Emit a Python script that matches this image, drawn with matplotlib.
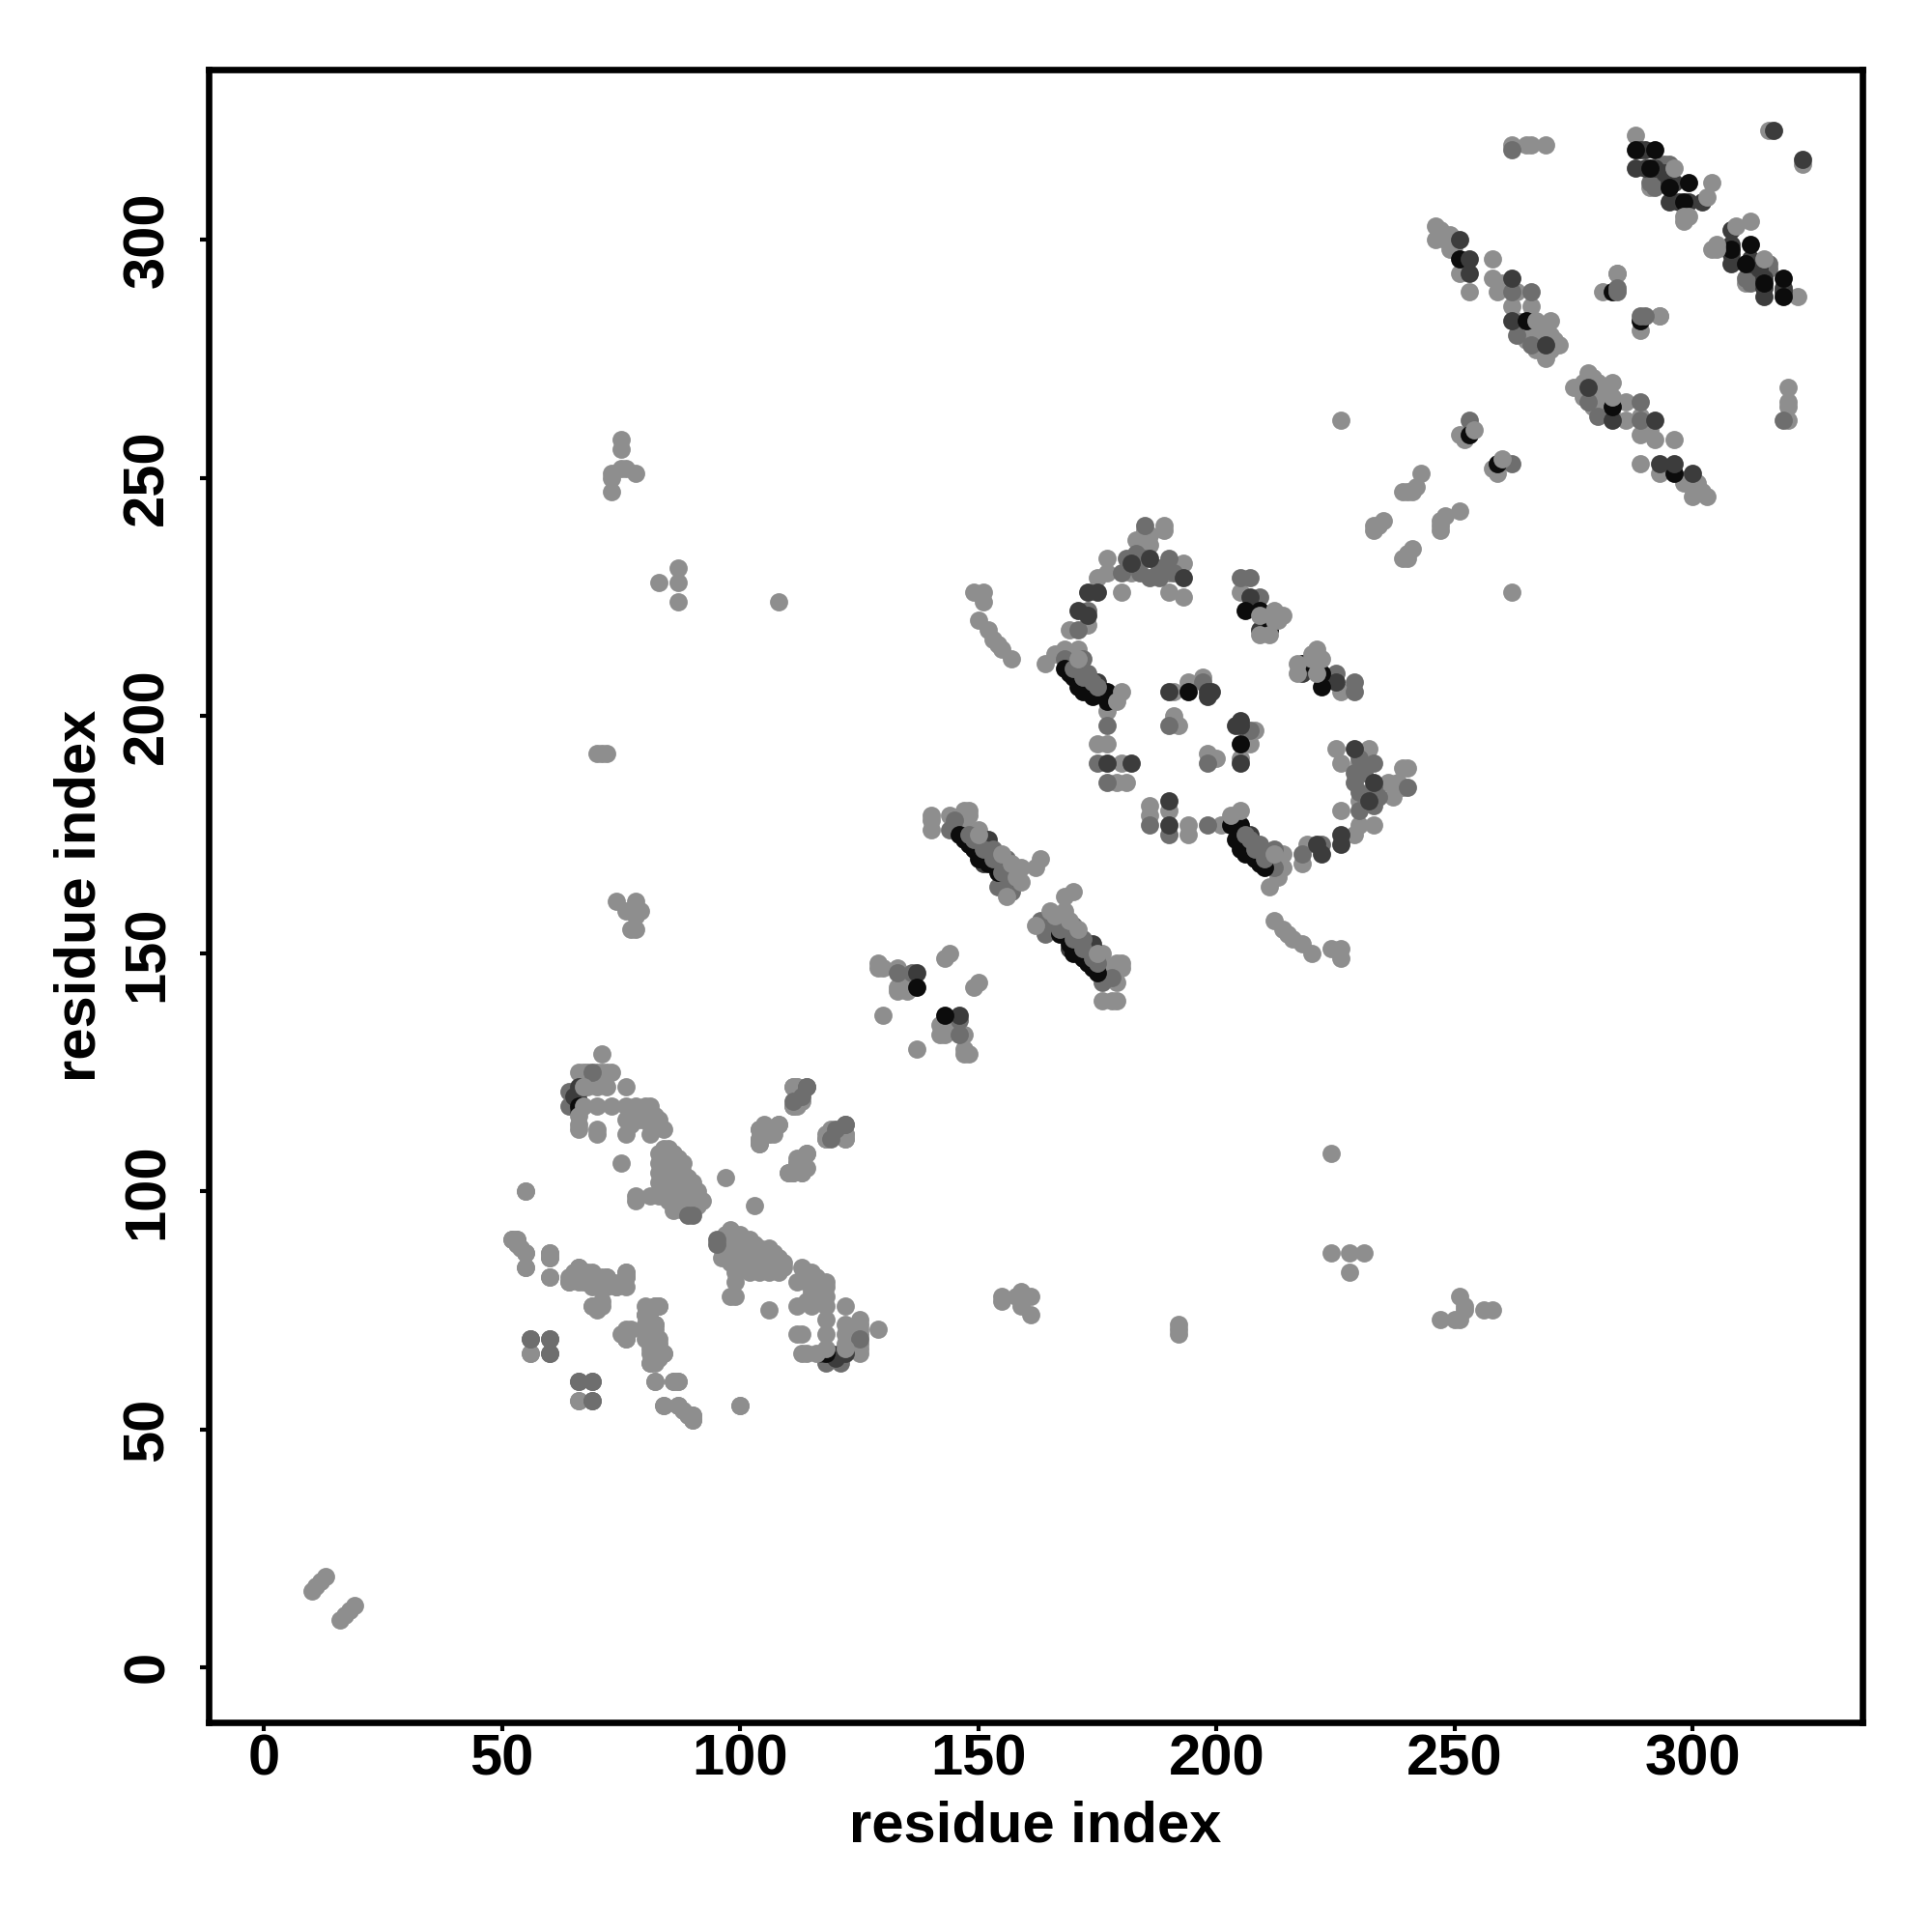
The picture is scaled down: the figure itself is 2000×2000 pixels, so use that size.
import matplotlib
matplotlib.use("Agg")
import matplotlib.pyplot as plt
import numpy as np

# contact map is symmetric, only residue pairs i < j are listed
light = [
    (10,16),(11,17),(12,18),(13,19),
    (71,129),(66,125),(67,125),(68,125),(70,125),(71,125),(72,125),(73,125),
    (68,122),(70,122),(72,122),(76,122),(65,121),(65,118),(70,118),
    (73,118),(76,118),(78,118),(80,118),(81,118),(66,114),(76,115),(81,114),(83,115),
    (66,113),(70,113),(70,112),(76,112),(81,112),(84,113),(78,116),(79,115),(77,114),(82,116),
    (75,106),(55,100),(84,109),(85,109),(86,108),(87,107),(88,106),(87,105),(88,104),(89,103),
    (90,102),(91,100),(92,98),(83,108),(83,106),(83,104),(83,102),(84,100),(85,104),(85,102),(86,100),
    (84,106),(86,104),(87,101),(88,99),(89,100),(85,98),(78,98),(78,99),(81,99),(83,99),(86,96),(88,96),
    (87,98),(90,97),(91,97),(97,103),
    (111,122),(112,122),(111,118),(112,118),(113,119),(104,110),(105,112),(108,114),(104,113),(106,112),
    (104,111),(107,112),(118,111),(119,112),(122,111),(122,112),(114,108),(113,107),(110,104),(111,104),
    (113,104),(112,105),(114,105),(112,106),
    (52,90),(53,90),(54,88),(55,87),(55,84),(60,87),(60,86),(60,82),(64,82),(64,81),(66,84),(66,82),
    (68,83),(69,83),(69,82),(70,81),(71,82),(71,80),(72,82),(74,80),(76,83),(76,82),(75,81),(70,76),
    (71,77),(69,76),(82,76),(83,76),(80,76),(80,74),(81,73),(82,72),(80,72),(76,71),(75,70),(76,69),
    (80,70),(80,69),(82,69),(82,68),(81,67),(81,66),(84,66),(81,64),(83,65),(56,66),(66,56),
    (82,60),(86,60),(87,60),(84,55),(87,55),(89,53),(90,52),(90,53),(100,55),
    (140,179),(140,178),(140,176),(148,180),(148,179),(147,180),(147,178),(150,176),(144,179),
    (129,148),(129,147),(130,147),(133,147),(133,143),(135,142),(133,142),(134,144),(130,137),(143,149),(144,150),
    (185,239),(189,240),(189,239),(183,237),(186,236),(186,238),(177,233),(182,230),(193,232),(190,230),
    (175,229),(177,230),(180,226),(190,226),(193,225),(169,218),(173,219),(171,214),(166,213),
    (164,211),(168,214),(170,213),(177,201),(175,194),(177,194),(180,190),(179,186),
    (181,186),(191,205),(194,207),(197,208),(191,200),(192,198),(205,226),
    (262,320),(265,320),(266,320),(269,320),(288,322),(291,311),(316,323),
    (246,303),(246,300),(248,301),(249,301),(247,302),(249,298),(250,299),(251,293),(253,289),(248,300),
    (258,296),(258,292),(259,289),(260,291),(262,286),(263,289),(266,286),(263,283),(270,283),
    (266,280),(270,280),(268,281),(272,278),(269,275),(270,277),(271,279),(265,279),(267,277),(268,279),(284,293),(281,289),(293,284),
    (233,240),(234,240),(235,241),(233,239),(239,247),(240,247),(242,248),(243,251),(241,247),
    (226,262),(251,259),(252,258),
    (75,258),(75,256),(73,251),(73,250),(73,247),(75,252),(78,251),(76,252),(83,228),(87,231),(87,228),
    (87,224),(108,224),(70,192),(71,192),(72,192),(74,161),(78,161),(76,159),(79,159),(78,158),(77,155),(78,155),
    (149,226),(151,226),(151,224),(150,220),(152,218),(154,215),(155,214),(157,212),(153,216),
]
mid = [
    (69,125),(66,121),(64,121),(64,118),(114,122),(113,120),(119,111),(122,114),
    (56,69),(60,69),(60,66),(66,60),(69,60),(69,56),(89,95),(90,95),
    (144,176),(145,178),(133,146),(136,146),(157,163),(154,164),
    (185,240),(181,233),(190,233),(180,230),(186,229),(183,234),(183,232),(185,233),(184,230),(188,231),(188,229),(191,230),
    (171,218),(173,222),(177,198),(175,190),(177,186),
    (207,229),(205,229),(209,225),(190,198),(262,319),(253,262),(262,289),(266,289),(263,280),(266,278),
    (291,312),(294,316),(295,316),(292,311),(172,212),(168,212),(155,168),(197,207),
]
dark = [
    (66,122),(65,120),(66,119),(66,117),(173,226),(175,226),(171,222),(173,221),(182,232),(186,233),(193,229),(177,190),(182,190),
    (190,205),(198,205),(199,205),(198,204),(207,225),(209,218),(288,315),(290,315),(292,315),(294,314),
    (295,312),(296,312),(295,308),(297,308),(299,308),(302,308),(289,319),(290,319),
    (262,292),(262,283),(269,278),(151,169),(175,207),(137,146),
]
black = [
    (66,118),(146,175),(147,174),(148,173),(149,172),(150,171),(150,170),(152,169),(154,167),
    (137,143),(168,210),(169,209),(170,208),(171,206),(172,205),(174,204),(177,205),(177,203),
    (194,205),(206,222),(209,222),(211,218),(288,319),(292,319),(291,315),(295,311),(299,312),(298,308),
    (251,296),(265,283),(253,259),(283,289),
]
over_dark = [(253,296),(253,293),(251,300),(317,323),(152,174)]
over_mid = [
    (148,175),(149,174),(151,172),(153,172),(153,170),(154,170),(156,170),(155,167),(157,166),(156,168),
    (170,210),(172,208),(173,209),(174,207),(175,206),(284,290),(284,289),
]
over_light = [
    (67,122),(67,118),(66,116),(150,175),(155,171),(157,169),(158,166),(159,168),
    (163,170),(162,168),(159,165),(156,162),(180,205),(179,203),(171,212),(212,222),(213,221),(214,221),(213,220),(212,220),
    (209,221),(209,217),(211,217),(296,315),(303,309),(304,312),(298,305),(299,305),(298,304),(267,283),(268,282),(254,260),
]

levels = [
    (light, "#8e8e8e"), (mid, "#6e6e6e"), (dark, "#3c3c3c"), (black, "#0c0c0c"),
    (over_dark, "#3c3c3c"), (over_mid, "#6e6e6e"), (over_light, "#8e8e8e"),
]
xticks = [0, 50, 100, 150, 200, 250, 300]

plt.rcParams['font.family'] = ['Liberation Sans', 'DejaVu Sans']
fig = plt.figure(figsize=(10, 10), dpi=200)
ax = fig.add_axes([216/2000, 1 - 1783/2000, (1928-216)/2000, (1783-72)/2000])

for pairs, col in levels:
    i, j = np.array(pairs).T
    ax.scatter(np.r_[i, j], np.r_[j, i], s=46, c=col, linewidths=0)

ax.set_xlim(-11.6, 335.6)
ax.set_ylim(-11.6, 335.8)
ax.set_xticks(xticks)
ax.set_yticks(xticks)
ax.set_xticklabels(xticks, fontsize=21.5, fontweight='bold')
ax.set_yticklabels(xticks, fontsize=21.5, fontweight='bold', rotation=90, va='center')
ax.tick_params(axis='x', length=3.2, width=1.5, pad=1)
ax.tick_params(axis='y', length=3.2, width=1.5, pad=9.5)
for s in ax.spines.values():
    s.set_linewidth(2.4)
ax.set_xlabel("residue index", fontsize=21.5, fontweight='bold', labelpad=5)
ax.set_ylabel("residue index", fontsize=21.5, fontweight='bold', labelpad=5.5)
plt.savefig('out.png', dpi=200)
